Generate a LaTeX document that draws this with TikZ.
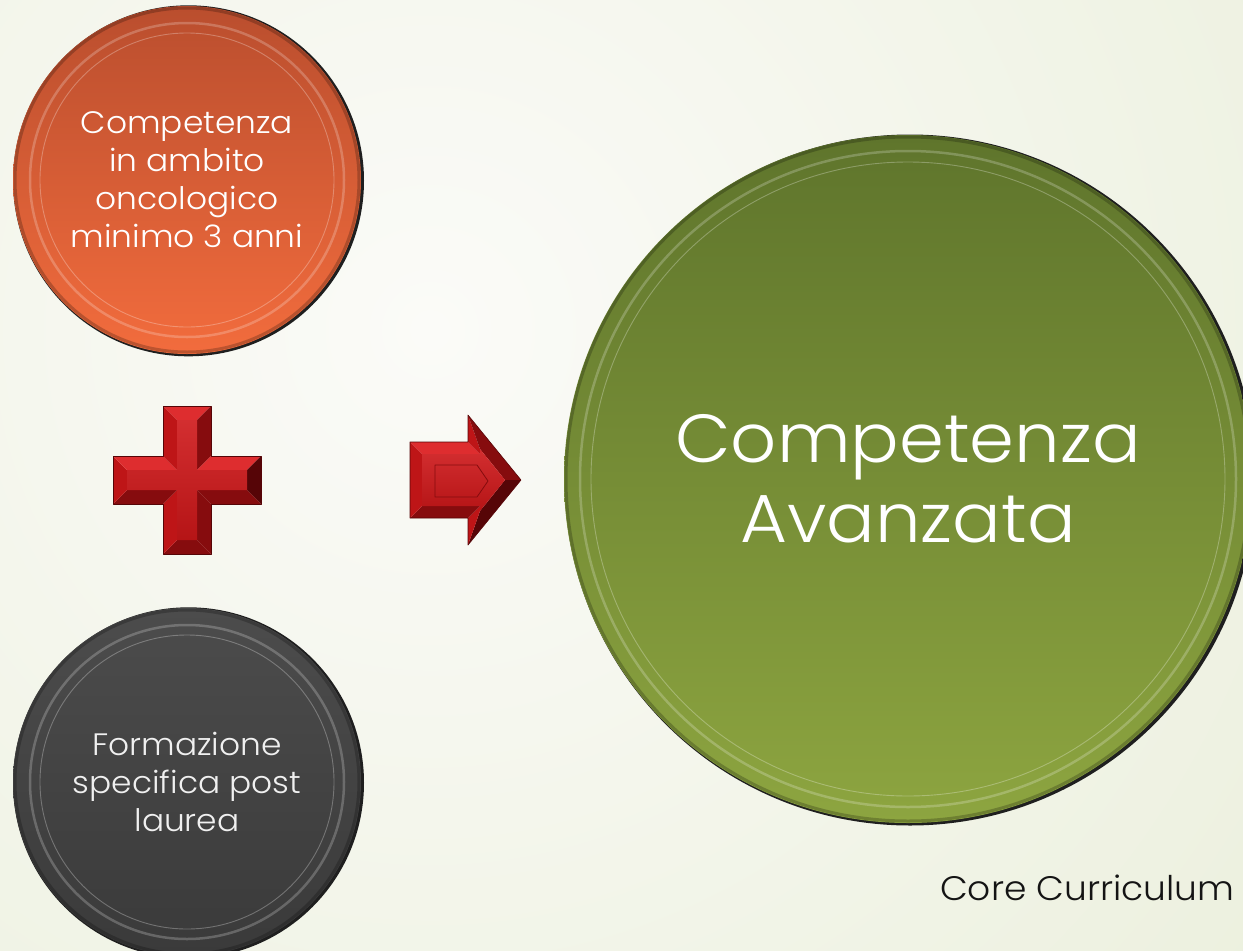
\documentclass[tikz,border=0pt]{standalone}
\usepackage{fontspec}
\setmainfont{Poppins}[UprightFont=* Light, FakeStretch=1.06]
\definecolor{bgin}{HTML}{FBFBF8}
\definecolor{bgout}{HTML}{E2E9CD}
\definecolor{orA}{HTML}{BA4E2E}
\definecolor{orB}{HTML}{F26C3D}
\definecolor{grA}{HTML}{4C4C4C}
\definecolor{grB}{HTML}{3A3A3A}
\definecolor{gnA}{HTML}{5F752C}
\definecolor{gnB}{HTML}{8DA540}
\definecolor{rFace}{HTML}{CE1719}
\definecolor{rLight}{HTML}{DE2D2F}
\definecolor{rMid}{HTML}{BE1517}
\definecolor{rDark}{HTML}{860C0E}
\definecolor{rDeep}{HTML}{560507}
\tikzset{
  disc/.style 2 args={circle, inner sep=0pt, minimum size=#1, top color=#2, shading angle=40, align=center, text=white},
  shadowdisc/.style={fill=black!88},
  rimdark/.style={draw=black, opacity=0.22, line width=3pt},
  rimlight/.style={draw=white, opacity=0.22, line width=2.5pt},
  rimline/.style={draw=white, opacity=0.28, line width=0.9pt},
  smalltext/.style={font=\fontsize{31}{38}\selectfont},
  bigtext/.style={font=\fontsize{68}{80}\selectfont},
  edge/.style={draw=rDeep, line width=0.6pt, line join=round}
}
\begin{document}
\begin{tikzpicture}[x=1pt,y=-1pt]
\useasboundingbox (0,0) rectangle (1243,951);
\begin{scope}
\clip (0,0) rectangle (1243,951);
\shade[inner color=bgin, outer color=bgout] (430,330) circle (1750pt);

% ---------- orange disc ----------
\coordinate (oc) at (187,180);
\fill[shadowdisc] ([shift={(1.5,0.8)}]oc) circle (175.5pt);
\node[disc={348pt}{orA}, bottom color=orB, smalltext] (orange) at (oc)
  {Competenza\\in ambito\\oncologico\\minimo 3 anni};
\draw[rimdark] (orange.center) circle (172pt);
\draw[rimlight] (orange.center) circle (157pt);
\draw[rimline] (orange.center) circle (147pt);

% ---------- gray disc ----------
\coordinate (gc) at (187,782);
\fill[shadowdisc] ([shift={(1.5,0.8)}]gc) circle (175.5pt);
\node[disc={348pt}{grA}, bottom color=grB, smalltext, text=white!94!black] (gray) at (gc)
  {Formazione\\specifica post\\laurea};
\draw[rimdark] (gray.center) circle (172pt);
\draw[rimlight] (gray.center) circle (157pt);
\draw[rimline] (gray.center) circle (147pt);

% ---------- green disc ----------
\coordinate (nc) at (908,479);
\fill[shadowdisc] ([shift={(2,1)}]nc) circle (345.5pt);
\node[disc={688pt}{gnA}, bottom color=gnB, bigtext] (green) at (nc)
  {Competenza\\Avanzata};
\draw[rimdark] (green.center) circle (342pt);
\draw[rimlight] (green.center) circle (328pt);
\draw[rimline] (green.center) circle (317pt);

% ---------- plus ----------
\coordinate (O1) at (163,406); \coordinate (O2) at (211,406);
\coordinate (O3) at (211,456); \coordinate (O4) at (261,456);
\coordinate (O5) at (261,504); \coordinate (O6) at (211,504);
\coordinate (O7) at (211,554); \coordinate (O8) at (163,554);
\coordinate (O9) at (163,504); \coordinate (O10) at (113,504);
\coordinate (O11) at (113,456); \coordinate (O12) at (163,456);
\coordinate (I1) at (177,420); \coordinate (I2) at (197,420);
\coordinate (I3) at (197,470); \coordinate (I4) at (247,470);
\coordinate (I5) at (247,490); \coordinate (I6) at (197,490);
\coordinate (I7) at (197,540); \coordinate (I8) at (177,540);
\coordinate (I9) at (177,490); \coordinate (I10) at (127,490);
\coordinate (I11) at (127,470); \coordinate (I12) at (177,470);
\fill[rLight] (O1) -- (O2) -- (I2) -- (I1) -- cycle;
\fill[rDark]  (O2) -- (O3) -- (I3) -- (I2) -- cycle;
\fill[rLight] (O3) -- (O4) -- (I4) -- (I3) -- cycle;
\fill[rDeep]  (O4) -- (O5) -- (I5) -- (I4) -- cycle;
\fill[rDark]  (O5) -- (O6) -- (I6) -- (I5) -- cycle;
\fill[rDark]  (O6) -- (O7) -- (I7) -- (I6) -- cycle;
\fill[rDark]  (O7) -- (O8) -- (I8) -- (I7) -- cycle;
\fill[rMid]   (O8) -- (O9) -- (I9) -- (I8) -- cycle;
\fill[rDark]  (O9) -- (O10) -- (I10) -- (I9) -- cycle;
\fill[rMid]   (O10) -- (O11) -- (I11) -- (I10) -- cycle;
\fill[rLight] (O11) -- (O12) -- (I12) -- (I11) -- cycle;
\fill[rMid]   (O12) -- (O1) -- (I1) -- (I12) -- cycle;
\shade[top color=rFace!90!white, bottom color=rFace!88!black]
  (I1) -- (I2) -- (I3) -- (I4) -- (I5) -- (I6) -- (I7) -- (I8) -- (I9) -- (I10) -- (I11) -- (I12) -- cycle;
\draw[edge] (O1) -- (O2) -- (O3) -- (O4) -- (O5) -- (O6) -- (O7) -- (O8) -- (O9) -- (O10) -- (O11) -- (O12) -- cycle;

% ---------- arrow ----------
\coordinate (A) at (410,442); \coordinate (B) at (468,442);
\coordinate (C) at (468,415); \coordinate (D) at (521,480);
\coordinate (E) at (468,545); \coordinate (F) at (468,518);
\coordinate (G) at (410,518);
\coordinate (Ai) at (422,454); \coordinate (Bi) at (480,454);
\coordinate (Ci) at (480,449); \coordinate (Di) at (505,480);
\coordinate (Ei) at (480,511); \coordinate (Fi) at (480,506);
\coordinate (Gi) at (422,506);
\fill[rLight] (A) -- (B) -- (Bi) -- (Ai) -- cycle;
\fill[rMid]   (B) -- (C) -- (Ci) -- (Bi) -- cycle;
\fill[rDark]  (C) -- (D) -- (Di) -- (Ci) -- cycle;
\fill[rDeep]  (D) -- (E) -- (Ei) -- (Di) -- cycle;
\fill[rMid]   (E) -- (F) -- (Fi) -- (Ei) -- cycle;
\fill[rDark]  (F) -- (G) -- (Gi) -- (Fi) -- cycle;
\fill[rMid]   (G) -- (A) -- (Ai) -- (Gi) -- cycle;
\shade[top color=rFace!90!white, bottom color=rFace!88!black]
  (Ai) -- (Bi) -- (Ci) -- (Di) -- (Ei) -- (Fi) -- (Gi) -- cycle;
\draw[draw=rDark, line width=0.8pt, line join=round]
  (435,465) -- (477,465) -- (488,481) -- (477,497) -- (435,497) -- cycle;
\draw[edge] (A) -- (B) -- (C) -- (D) -- (E) -- (F) -- (G) -- cycle;

% ---------- caption ----------
\node[anchor=base west, inner sep=0pt, font=\fontsize{34}{40}\selectfont, text=black!92] (core) at (940,900) {Core Curriculum};
\end{scope}
\end{tikzpicture}
\end{document}
